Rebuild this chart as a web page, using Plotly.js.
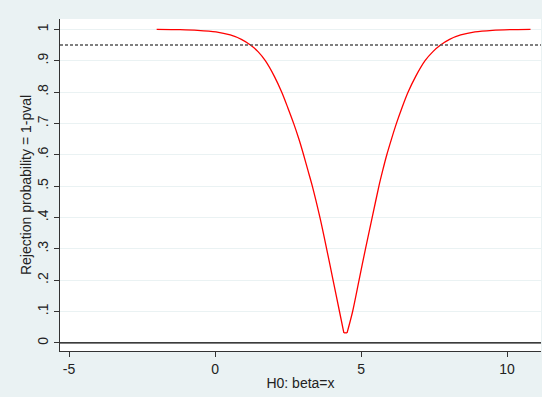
<!DOCTYPE html>
<html>
<head>
<meta charset="utf-8">
<script src="https://cdn.plot.ly/plotly-3.0.1.min.js"></script>
<style>html,body{margin:0;padding:0;background:#EAF2F3;}</style>
</head>
<body>
<div id="chart" style="width:542px;height:397px;"></div>
<script>
// H0 values (beta = x)
const betaX = [-2.0, -1.2, -0.6, 0.03, 0.52, 0.90, 1.21, 1.47, 1.72, 2.03, 2.28, 2.49, 2.69, 2.87, 3.03, 3.18, 3.33, 3.59, 3.82, 4.04, 4.26, 4.41,
               4.52, 4.71, 4.93, 5.15, 5.38, 5.61, 5.74, 5.88, 6.04, 6.21, 6.40, 6.61, 6.87, 7.19, 7.46, 7.72, 8.03, 8.41, 8.90, 9.5, 10.1, 10.8];
// Rejection probability = 1 - pval
const rejProb = [1.0, 0.999, 0.997, 0.992, 0.982, 0.968, 0.95, 0.929, 0.9, 0.85, 0.8, 0.75, 0.7, 0.65, 0.6, 0.55, 0.5, 0.4, 0.3, 0.2, 0.1, 0.032,
                 0.032, 0.1, 0.2, 0.3, 0.4, 0.5, 0.55, 0.6, 0.65, 0.7, 0.75, 0.8, 0.85, 0.9, 0.929, 0.95, 0.968, 0.982, 0.992, 0.997, 0.999, 1.0];
// Reference lines
const refLevel = 0.95;
const zeroLevel = 0;
// Ticks
const yTickVals = [0, 0.1, 0.2, 0.3, 0.4, 0.5, 0.6, 0.7, 0.8, 0.9, 1];
const yTickText = ["0", ".1", ".2", ".3", ".4", ".5", ".6", ".7", ".8", ".9", "1"];
const xTickVals = [-5, 0, 5, 10];
const xTickText = ["-5", "0", "5", "10"];

const font = {family: "Liberation Sans, Arial, sans-serif", size: 14, color: "#222"};

// split at the flat minimum so the smooth branches don't overshoot the V bottom
const minVal = Math.min(...rejProb);
const iA = rejProb.indexOf(minVal);
const iB = rejProb.lastIndexOf(minVal);
const lineStyle = {color: "#FF0000", width: 1.3};
const traces = [
  {x: betaX.slice(0, iA + 1), y: rejProb.slice(0, iA + 1), type: "scatter", mode: "lines",
   line: Object.assign({shape: "spline", smoothing: 0.8}, lineStyle), hoverinfo: "skip"},
  {x: betaX.slice(iA, iB + 1), y: rejProb.slice(iA, iB + 1), type: "scatter", mode: "lines",
   line: lineStyle, hoverinfo: "skip"},
  {x: betaX.slice(iB), y: rejProb.slice(iB), type: "scatter", mode: "lines",
   line: Object.assign({shape: "spline", smoothing: 0.8}, lineStyle), hoverinfo: "skip"}
];

const layout = {
  width: 542, height: 397,
  margin: {l: 60, r: 1, t: 19, b: 46},
  paper_bgcolor: "#EAF2F3",
  plot_bgcolor: "#FFFFFF",
  showlegend: false,
  font: font,
  xaxis: {
    range: [-5.31, 11.16],
    tickvals: xTickVals, ticktext: xTickText,
    ticks: "outside", ticklen: 5, tickcolor: "#333", tickwidth: 1,
    showline: true, linecolor: "#333", linewidth: 1,
    showgrid: false, zeroline: false,
    tickfont: font,
    title: {text: "H0: beta=x", font: font, standoff: 2}
  },
  yaxis: {
    range: [-0.026, 1.033],
    tickvals: yTickVals, ticktext: yTickText, tickangle: -90,
    ticks: "outside", ticklen: 5, tickcolor: "#333", tickwidth: 1,
    showline: true, linecolor: "#333", linewidth: 1,
    showgrid: true, gridcolor: "#EAF2F3", gridwidth: 1,
    zeroline: false,
    tickfont: font,
    title: {text: "Rejection probability = 1-pval", font: font, standoff: 0}
  },
  shapes: [
    {type: "line", xref: "paper", x0: 0, x1: 1, yref: "y", y0: zeroLevel, y1: zeroLevel,
     line: {color: "#000", width: 1.2}},
    {type: "line", xref: "paper", x0: 0, x1: 1, yref: "y", y0: refLevel, y1: refLevel,
     line: {color: "#555", width: 1.4, dash: "3px,2px"}}
  ]
};

Plotly.newPlot("chart", traces, layout, {displayModeBar: false, staticPlot: true});
</script>
</body>
</html>
